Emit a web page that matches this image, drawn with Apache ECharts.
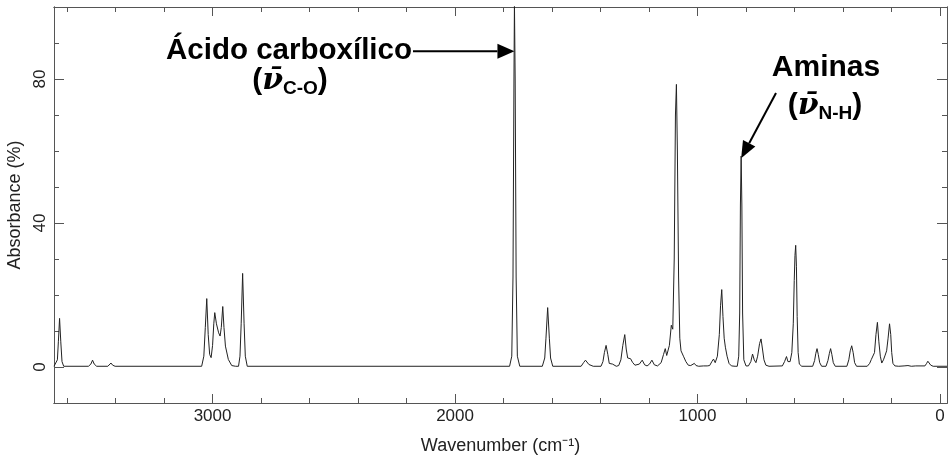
<!DOCTYPE html>
<html>
<head>
<meta charset="utf-8">
<script src="https://cdn.jsdelivr.net/npm/echarts@6/dist/echarts.min.js"></script>
<style>
html, body { margin: 0; padding: 0; background: #fff; }
#ir { width: 948px; height: 457px; }
</style>
</head>
<body>
<div id="ir"></div>
<script>
// spectrum: [wavenumber, absorbance %]
var spectrumPoints = [
  [3654, 0.2], [3646, 0.4], [3640, 2], [3636, 7], [3631, 13.5], [3626, 7], [3621, 1.5], [3614, 0.2],
  [3512, 0.2], [3502, 0.8], [3495, 1.9], [3488, 0.8], [3478, 0.2],
  [3432, 0.2], [3425, 0.6], [3419, 1.1], [3412, 0.5], [3402, 0.2],
  [3045, 0.2], [3036, 3], [3030, 11], [3024, 19.0], [3018, 9], [3012, 3.5], [3006, 2.6], [3000, 6],
  [2995, 12], [2991, 15.1], [2984, 12], [2975, 9.5], [2969, 8.6], [2964, 11], [2958, 16.8], [2953, 11],
  [2947, 5.8], [2935, 2.1], [2921, 0.4], [2905, 0.2],
  [2893, 0.2], [2887, 3], [2882, 12], [2876, 26.0], [2870, 12], [2865, 3], [2857, 0.2],
  [1775, 0.2], [1766, 3], [1761, 25], [1757, 80], [1755, 101], [1752, 80], [1748, 25], [1743, 3], [1733, 0.2],
  [1640, 0.2], [1630, 2.5], [1625, 8], [1618, 16.5], [1611, 8], [1606, 2.5], [1597, 0.2],
  [1480, 0.2], [1470, 1.2], [1462, 1.9], [1455, 1.5], [1448, 0.7], [1440, 0.4], [1430, 0.2],
  [1398, 0.2], [1390, 1.5], [1384, 4], [1377, 6.0], [1370, 3.5], [1364, 1], [1356, 0.5], [1350, 0.8],
  [1343, 0.3], [1335, 0.2],
  [1325, 0.4], [1316, 2], [1308, 6], [1300, 9.0], [1294, 5], [1288, 2.5], [1282, 2], [1276, 2.3],
  [1268, 1.3], [1258, 0.5], [1250, 0.3],
  [1240, 0.8], [1228, 1.9], [1218, 0.6], [1208, 0.3], [1198, 0.8], [1188, 1.9], [1178, 0.6], [1165, 0.3],
  [1150, 1.2], [1140, 3.5], [1133, 5.1], [1127, 3.2], [1122, 3.0], [1116, 6], [1108, 11.6], [1102, 10.5],
  [1096, 30], [1091, 70], [1087, 78.5], [1083, 60], [1078, 25], [1073, 8], [1068, 4.5], [1058, 3],
  [1048, 1.5], [1038, 0.5], [1028, 0.4], [1020, 0.6], [1013, 1.0], [1006, 0.4], [995, 0.2],
  [975, 0.3], [968, 0.5], [960, 0.3], [950, 0.4], [940, 1.6], [934, 2.2], [927, 1.2],
  [918, 3], [910, 9], [905, 17], [900, 21.5], [895, 14], [890, 8], [885, 5.5], [878, 3], [870, 1],
  [860, 0.3], [845, 0.2],
  [836, 0.2], [830, 3], [826, 15], [823, 45], [820, 58.6], [817, 45], [814, 15], [809, 2], [800, 0.3],
  [790, 0.3], [780, 1.5], [773, 3.6], [766, 2], [759, 1.2], [752, 3], [744, 6.5], [738, 7.8], [732, 5],
  [726, 2], [718, 0.5], [705, 0.2],
  [650, 0.3], [641, 1.5], [633, 2.9], [627, 1.5], [618, 1.5], [611, 4], [605, 12], [601, 24], [598, 31],
  [595, 33.8], [592, 28], [589, 14], [585, 4], [580, 0.8], [570, 0.2],
  [525, 0.2], [517, 1.8], [512, 3.8], [507, 5.1], [502, 3.5], [496, 1.2], [488, 0.2],
  [470, 0.2], [462, 1.8], [456, 3.8], [451, 5.1], [446, 3.5], [440, 1.2], [432, 0.2],
  [384, 0.2], [376, 2], [370, 4.5], [364, 5.9], [358, 4], [352, 1.2], [344, 0.2],
  [300, 0.2], [290, 1], [283, 2.1], [277, 1.6], [270, 4], [264, 9], [258, 12.4], [252, 7], [246, 3],
  [240, 1.1], [233, 2], [226, 3.3], [220, 4.5], [214, 8], [208, 12.0], [203, 9], [199, 4], [194, 1],
  [186, 0.3], [170, 0.2],
  [148, 0.3], [140, 0.7], [132, 0.4], [118, 0.2], [100, 0.3],
  [62, 0.3], [55, 1], [50, 1.6], [45, 1.4], [38, 0.5], [28, 0.2], [-29, 0.2]
];

var xMajorTicks = [0, 1000, 2000, 3000];
var xMinorTicks = [200, 400, 600, 800, 1200, 1400, 1600, 1800, 2200, 2400, 2600, 2800, 3200, 3400, 3600];
var yMajorTicks = [0, 40, 80];
var yMinorTicks = [10, 20, 30, 50, 60, 70, 90];

var xName = 'Wavenumber (cm⁻¹)';
var yName = 'Absorbance (%)';

var font = '"Liberation Sans", Arial, sans-serif';
var grey = '#555';

function plain(v) { return String(v); }

function xAxisFor(pos, ticks, len, labels) {
  return {
    type: 'value', position: pos, inverse: true, min: -29, max: 3654,
    axisLine: { show: true, onZero: false, lineStyle: { color: grey, width: 1 } },
    axisTick: { show: true, inside: true, length: len, customValues: ticks, lineStyle: { color: grey } },
    axisLabel: labels ? { show: true, customValues: ticks, formatter: plain, margin: 5, fontSize: 17, color: '#222', fontFamily: font } : { show: false },
    splitLine: { show: false }
  };
}

function yAxisFor(pos, ticks, len, labels) {
  return {
    type: 'value', position: pos, min: -10, max: 100,
    axisLine: { show: true, onZero: false, lineStyle: { color: grey, width: 1 } },
    axisTick: { show: true, inside: true, length: len, customValues: ticks, lineStyle: { color: grey } },
    axisLabel: labels ? { show: true, customValues: ticks, formatter: plain, rotate: 90, margin: 5, fontSize: 17, color: '#222', fontFamily: font } : { show: false },
    splitLine: { show: false }
  };
}

var xBottom = xAxisFor('bottom', xMajorTicks, 9, true);
xBottom.name = xName;
xBottom.nameLocation = 'middle';
xBottom.nameGap = 34;
xBottom.nameTextStyle = { fontSize: 18, color: '#222', fontFamily: font };

var yLeft = yAxisFor('left', yMajorTicks, 10, true);
yLeft.name = yName;
yLeft.nameLocation = 'middle';
yLeft.nameGap = 22;
yLeft.nameTextStyle = { fontSize: 18, color: '#222', fontFamily: font };

var chart = echarts.init(document.getElementById('ir'));
chart.setOption({
  animation: false,
  backgroundColor: '#fff',
  grid: { left: 54, right: 1, top: 7, bottom: 54, containLabel: false, outerBoundsMode: 'none' },
  xAxis: [
    xBottom,
    xAxisFor('bottom', xMinorTicks, 5, false),
    xAxisFor('top', xMajorTicks, 9, false),
    xAxisFor('top', xMinorTicks, 5, false)
  ],
  yAxis: [
    yLeft,
    yAxisFor('left', yMinorTicks, 5, false),
    yAxisFor('right', yMajorTicks, 10, false),
    yAxisFor('right', yMinorTicks, 5, false)
  ],
  series: [{
    type: 'line',
    xAxisIndex: 0,
    yAxisIndex: 0,
    data: spectrumPoints,
    showSymbol: false,
    clip: true,
    lineStyle: { color: '#222', width: 1 }
  }]
});

// annotations: arrows point at the peaks
function arrow(from, to, head, half) {
  var dx = to[0] - from[0], dy = to[1] - from[1];
  var L = Math.sqrt(dx * dx + dy * dy), ux = dx / L, uy = dy / L;
  var bx = to[0] - ux * head, by = to[1] - uy * head;
  return [
    { type: 'line', shape: { x1: from[0], y1: from[1], x2: bx, y2: by }, style: { stroke: '#000', lineWidth: 2 } },
    { type: 'polygon', shape: { points: [[to[0], to[1]], [bx - uy * half, by + ux * half], [bx + uy * half, by - ux * half]] }, style: { fill: '#000' } }
  ];
}

var richNu = {
  p: { fontSize: 30, fontWeight: 'bold', fontFamily: font, lineHeight: 34 },
  nu: { fontSize: 30, fontWeight: 'bold', fontStyle: 'italic', fontFamily: '"DejaVu Serif", serif', lineHeight: 34 },
  s: { fontSize: 19, fontWeight: 'bold', fontFamily: font, lineHeight: 34, verticalAlign: 'bottom' }
};

var acidTip = chart.convertToPixel({ seriesIndex: 0 }, [1755, 87.7]);
var amineTip = chart.convertToPixel({ seriesIndex: 0 }, [820, 58]);

var els = [
  { type: 'text', x: 289, y: 51, style: { text: 'Ácido carboxílico', font: 'bold 29.5px ' + font, fill: '#000', align: 'center', verticalAlign: 'middle' } },
  { type: 'text', x: 290, y: 81, style: { text: '{p|(}{nu|ν̄}{s|C-O}{p|)}', rich: richNu, align: 'center', verticalAlign: 'middle' } },
  { type: 'text', x: 826, y: 68, style: { text: 'Aminas', font: 'bold 30px ' + font, fill: '#000', align: 'center', verticalAlign: 'middle' } },
  { type: 'text', x: 825, y: 106, style: { text: '{p|(}{nu|ν̄}{s|N-H}{p|)}', rich: richNu, align: 'center', verticalAlign: 'middle' } }
];
els = els.concat(arrow([413, acidTip[1]], acidTip, 17, 7.5));
els = els.concat(arrow([776, 93], amineTip, 17, 7));

chart.setOption({ graphic: { elements: els } });
</script>
</body>
</html>
